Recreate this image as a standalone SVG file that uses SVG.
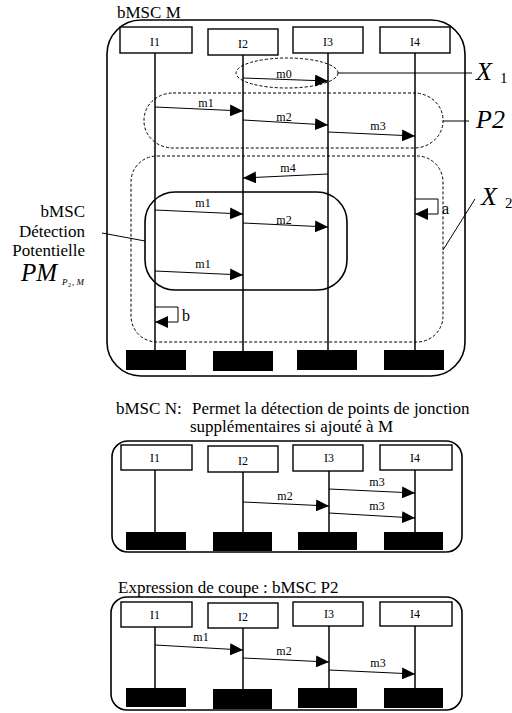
<svg xmlns="http://www.w3.org/2000/svg" width="512" height="713" viewBox="0 0 512 713">
<style>
text{font-family:"Liberation Serif","Times New Roman",serif;fill:#000}
.t{font-size:17px}
.lbl{font-size:12px;text-anchor:middle}
.big{font-size:26px;font-style:italic}
.frame{fill:none;stroke:#000;stroke-width:1.6}
.box{fill:#fff;stroke:#000;stroke-width:1.4}
.end{fill:#000}
.life{stroke:#000;stroke-width:1.5}
.msg{stroke:#000;stroke-width:1;fill:none;marker-end:url(#ah)}
.dash{fill:none;stroke:#000;stroke-width:1;stroke-dasharray:3,2}
.ln{stroke:#000;stroke-width:1;fill:none}
</style>
<defs>
<marker id="ah" markerUnits="userSpaceOnUse" markerWidth="13" markerHeight="12" viewBox="0 0 13 12" refX="13" refY="6" orient="auto">
<path d="M0,0 L13,6 L0,12 z" fill="#000"/>
</marker>
</defs>

<!-- ===== bMSC M ===== -->
<g id="bmscM">
<text class="t" x="117" y="18">bMSC M</text>
<rect class="frame" x="107" y="20" width="358" height="356" rx="34" ry="34"/>
</g>
<g id="M-I1"><rect class="box" x="120" y="27" width="72" height="26"/><text class="lbl" x="155" y="46">I1</text><line class="life" x1="155" y1="53" x2="155" y2="351"/><rect class="end" x="126" y="350" width="60" height="20"/></g>
<g id="M-I2"><rect class="box" x="208" y="29" width="70" height="26"/><text class="lbl" x="243" y="48">I2</text><line class="life" x1="243" y1="55" x2="243" y2="352"/><rect class="end" x="213" y="351" width="60" height="20"/></g>
<g id="M-I3"><rect class="box" x="293" y="27" width="70" height="26"/><text class="lbl" x="328" y="46">I3</text><line class="life" x1="328" y1="53" x2="328" y2="351"/><rect class="end" x="297" y="350" width="60" height="20"/></g>
<g id="M-I4"><rect class="box" x="380" y="27" width="70" height="26"/><text class="lbl" x="415" y="46">I4</text><line class="life" x1="415" y1="53" x2="415" y2="351"/><rect class="end" x="384" y="350" width="60" height="20"/></g>

<g id="X1-region"><ellipse class="dash" cx="287" cy="73" rx="51" ry="15"/></g>
<g id="P2-region"><rect class="dash" x="144" y="93" width="299" height="55" rx="29" ry="27"/></g>
<g id="X2-region"><rect class="dash" x="131" y="156" width="312" height="186" rx="26" ry="26"/></g>
<g id="PM-region"><rect fill="none" stroke="#000" stroke-width="1.6" x="145" y="192" width="202" height="98" rx="30" ry="30"/></g>

<g id="label-X1"><text class="big" x="476" y="80">X</text><text x="500" y="83" font-size="15">1</text></g>
<g id="label-P2"><text class="big" x="476" y="128">P2</text></g>
<g id="label-X2"><text class="big" x="481" y="205">X</text><text x="505" y="208" font-size="15">2</text></g>
<g id="label-PM">
<text class="t" x="85" y="217" text-anchor="end">bMSC</text>
<text class="t" x="85" y="237" text-anchor="end">Détection</text>
<text class="t" x="85" y="256" text-anchor="end">Potentielle</text>
<text x="21" y="281" font-size="25" font-style="italic">PM</text>
<text x="62" y="285" font-size="9" font-style="italic">P</text>
<text x="68" y="287" font-size="6">2</text>
<text x="72" y="285" font-size="9" font-style="italic">, M</text>
</g>

<g id="connectors">
<line class="msg" x1="243" y1="78" x2="328" y2="81"/>
<line class="msg" x1="155" y1="107" x2="243" y2="111"/>
<line class="msg" x1="243" y1="120" x2="328" y2="125"/>
<line class="msg" x1="328" y1="132" x2="415" y2="136"/>
<line class="msg" x1="328" y1="174" x2="243" y2="178"/>
<line class="msg" x1="155" y1="210" x2="243" y2="214"/>
<line class="msg" x1="243" y1="223" x2="328" y2="227"/>
<line class="msg" x1="155" y1="271" x2="243" y2="275"/>
<path class="msg" d="M415,199 H438 V214 H415"/>
<path class="msg" d="M155,307 H178 V322 H155"/>
<line class="ln" x1="338" y1="73" x2="472" y2="73"/>
<line class="ln" x1="443" y1="121" x2="469" y2="121"/>
<line class="ln" x1="443" y1="250" x2="475" y2="199"/>
<line class="ln" x1="102" y1="233" x2="145" y2="241"/>
<!-- N -->
<line class="msg" x1="329" y1="489" x2="415" y2="493"/>
<line class="msg" x1="243" y1="502" x2="329" y2="506"/>
<line class="msg" x1="329" y1="513" x2="415" y2="518"/>
<!-- P2 -->
<line class="msg" x1="155" y1="645" x2="243" y2="650"/>
<line class="msg" x1="243" y1="658" x2="329" y2="662"/>
<line class="msg" x1="329" y1="670" x2="415" y2="674"/>
</g>
<g id="msg-labels">
<text class="lbl" x="284" y="78">m0</text>
<text class="lbl" x="206" y="107">m1</text>
<text class="lbl" x="284" y="121">m2</text>
<text class="lbl" x="378" y="130">m3</text>
<text class="lbl" x="288" y="172">m4</text>
<text class="lbl" x="203" y="207">m1</text>
<text class="lbl" x="284" y="224">m2</text>
<text class="lbl" x="203" y="268">m1</text>
<text x="442" y="214" font-size="16">a</text>
<text x="182" y="321" font-size="16">b</text>
<text class="lbl" x="377" y="486">m3</text>
<text class="lbl" x="285" y="500">m2</text>
<text class="lbl" x="377" y="510">m3</text>
<text class="lbl" x="201" y="641">m1</text>
<text class="lbl" x="284" y="655">m2</text>
<text class="lbl" x="378" y="667">m3</text>
</g>

<!-- ===== bMSC N ===== -->
<g id="bmscN">
<text class="t" x="116" y="414">bMSC N:</text>
<text class="t" x="192" y="414">Permet la détection de points de jonction</text>
<text class="t" x="190" y="432">supplémentaires si ajouté à M</text>
<rect class="frame" x="112" y="441" width="350" height="111" rx="16" ry="16"/>
</g>
<g id="N-I1"><rect class="box" x="121" y="445" width="71" height="25"/><text class="lbl" x="155" y="462">I1</text><line class="life" x1="155" y1="470" x2="155" y2="533"/><rect class="end" x="126" y="532" width="60" height="18"/></g>
<g id="N-I2"><rect class="box" x="208" y="446" width="70" height="26"/><text class="lbl" x="243" y="465">I2</text><line class="life" x1="243" y1="472" x2="243" y2="533"/><rect class="end" x="213" y="532" width="59" height="19"/></g>
<g id="N-I3"><rect class="box" x="293" y="445" width="70" height="26"/><text class="lbl" x="329" y="462">I3</text><line class="life" x1="329" y1="471" x2="329" y2="533"/><rect class="end" x="298" y="532" width="59" height="18"/></g>
<g id="N-I4"><rect class="box" x="380" y="445" width="72" height="25"/><text class="lbl" x="415" y="462">I4</text><line class="life" x1="415" y1="470" x2="415" y2="533"/><rect class="end" x="384" y="532" width="59" height="18"/></g>

<!-- ===== bMSC P2 ===== -->
<g id="bmscP2">
<text class="t" x="118" y="593">Expression de coupe : bMSC P2</text>
<rect class="frame" x="111" y="597" width="351" height="113" rx="16" ry="16"/>
</g>
<g id="P-I1"><rect class="box" x="121" y="602" width="71" height="25"/><text class="lbl" x="155" y="619">I1</text><line class="life" x1="155" y1="627" x2="155" y2="689"/><rect class="end" x="126" y="688" width="60" height="19"/></g>
<g id="P-I2"><rect class="box" x="208" y="603" width="70" height="25"/><text class="lbl" x="243" y="621">I2</text><line class="life" x1="243" y1="628" x2="243" y2="690"/><rect class="end" x="213" y="689" width="59" height="20"/></g>
<g id="P-I3"><rect class="box" x="293" y="602" width="70" height="24"/><text class="lbl" x="329" y="618">I3</text><line class="life" x1="329" y1="626" x2="329" y2="689"/><rect class="end" x="298" y="688" width="59" height="20"/></g>
<g id="P-I4"><rect class="box" x="380" y="602" width="72" height="24"/><text class="lbl" x="415" y="618">I4</text><line class="life" x1="415" y1="626" x2="415" y2="689"/><rect class="end" x="384" y="688" width="59" height="20"/></g>
</svg>
